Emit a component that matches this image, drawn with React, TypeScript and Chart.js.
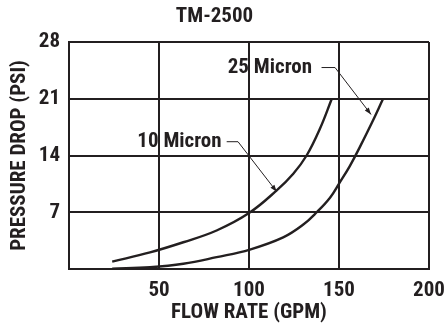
import { useEffect, useRef } from "react";
import { Chart, registerables } from "chart.js";

Chart.register(...registerables);

const FAMILY = "Roboto";
const WEIGHT = "condensed bold";
const INK = "#231f20";

const chartTitle = "TM-2500";
const xAxisTitle = "FLOW RATE (GPM)";
const yAxisTitle = "PRESSURE DROP (PSI)";
const xTickLabels = [50, 100, 150, 200];
const yTickLabels = [7, 14, 21, 28];

const seriesNames = ["10 Micron", "25 Micron"];

const micron10Flow = [24, 45, 63.5, 82, 100, 115.4, 124.6, 132, 139.4, 146];
const micron10Psi = [0.9, 2.05, 3.3, 4.75, 6.9, 9.7, 11.75, 14, 17.3, 21];

const micron25Flow = [24, 45, 63.5, 82, 100.5, 119, 130, 137.6, 145, 150.2, 156, 161.7, 168.2, 174.3];
const micron25Psi = [0.05, 0.22, 0.64, 1.46, 2.4, 3.9, 5.45, 7.0, 8.8, 10.6, 12.7, 15.1, 18, 20.9];

// callouts, in data units
const calloutText = ["10 Micron", "25 Micron"];
const calloutTextEndX = [84.8, 135];
const calloutY = [15.7, 24.85];
const calloutLineStartX = [87.6, 140.3];
const calloutBendX = [93.9, 147.8];
const calloutTipX = [115.4, 167.8];
const calloutTipY = [9.53, 19.06];

const calloutPlugin = {
  id: "callouts",
  afterDatasetsDraw(chart: any) {
    const { ctx, scales } = chart;
    const xs = scales.x;
    const ys = scales.y;
    ctx.save();
    for (let i = 0; i < calloutText.length; i++) {
      const ty = ys.getPixelForValue(calloutY[i]);
      ctx.font = `${WEIGHT} 21px ${FAMILY}`;
      ctx.fillStyle = INK;
      ctx.textAlign = "right";
      ctx.textBaseline = "middle";
      ctx.fillText(calloutText[i], xs.getPixelForValue(calloutTextEndX[i]), ty);

      const sx = xs.getPixelForValue(calloutLineStartX[i]);
      const bx = xs.getPixelForValue(calloutBendX[i]);
      const tx = xs.getPixelForValue(calloutTipX[i]);
      const tipY = ys.getPixelForValue(calloutTipY[i]);
      ctx.strokeStyle = INK;
      ctx.lineWidth = 1;
      ctx.beginPath();
      ctx.moveTo(sx, ty);
      ctx.lineTo(bx, ty);
      ctx.lineTo(tx, tipY);
      ctx.stroke();

      const ang = Math.atan2(tipY - ty, tx - bx);
      const len = 7;
      const half = 2.5;
      const baseX = tx - Math.cos(ang) * len;
      const baseY = tipY - Math.sin(ang) * len;
      ctx.beginPath();
      ctx.moveTo(tx, tipY);
      ctx.lineTo(baseX - Math.sin(ang) * half, baseY + Math.cos(ang) * half);
      ctx.lineTo(baseX + Math.sin(ang) * half, baseY - Math.cos(ang) * half);
      ctx.closePath();
      ctx.fill();
    }
    ctx.restore();
  },
};

export default function App() {
  const canvasRef = useRef<HTMLCanvasElement | null>(null);

  useEffect(() => {
    if (!canvasRef.current) return;
    const font = (size: number) => ({ family: FAMILY, size, weight: WEIGHT as any, lineHeight: 1.2 });
    const chart = new Chart(canvasRef.current, {
      type: "line",
      data: {
        datasets: [
          {
            label: seriesNames[0],
            data: micron10Flow.map((x, i) => ({ x, y: micron10Psi[i] })),
            borderColor: INK,
            borderWidth: 2.4,
            pointRadius: 0,
            tension: 0.4,
            fill: false,
          },
          {
            label: seriesNames[1],
            data: micron25Flow.map((x, i) => ({ x, y: micron25Psi[i] })),
            borderColor: INK,
            borderWidth: 2.4,
            pointRadius: 0,
            tension: 0.4,
            fill: false,
          },
        ],
      },
      options: {
        animation: false,
        responsive: true,
        maintainAspectRatio: false,
        layout: { padding: { left: 0, right: 15, top: 0, bottom: 0 } },
        plugins: {
          legend: { display: false },
          tooltip: { enabled: false },
          title: {
            display: true,
            text: chartTitle,
            color: INK,
            font: font(21),
            padding: { top: 4.5, bottom: 12.3 },
          },
        },
        scales: {
          x: {
            type: "linear",
            min: 0,
            max: 200,
            afterFit: (s: any) => {
              s.height = 61;
              s.paddingLeft = 0;
              s.paddingRight = 0;
            },
            ticks: {
              stepSize: 50,
              autoSkip: false,
              maxRotation: 0,
              color: INK,
              font: font(21),
              padding: 9,
              callback: (v: any) => (xTickLabels.includes(Number(v)) ? String(v) : ""),
            },
            grid: { color: INK, lineWidth: 2, drawTicks: false },
            border: { color: INK, width: 2 },
            title: {
              display: true,
              text: xAxisTitle,
              color: INK,
              font: font(21),
              padding: { top: 0, bottom: 5 },
            },
          },
          y: {
            type: "linear",
            min: 0,
            max: 28,
            afterFit: (s: any) => {
              s.width = 69;
            },
            ticks: {
              stepSize: 7,
              autoSkip: false,
              color: INK,
              font: font(21),
              padding: 9,
              callback: (v: any) => (yTickLabels.includes(Number(v)) ? String(v) : ""),
            },
            grid: { color: INK, lineWidth: 2, drawTicks: false },
            border: { color: INK, width: 2 },
            title: {
              display: true,
              text: yAxisTitle,
              color: INK,
              font: font(21),
              padding: { top: 7, bottom: 0 },
            },
          },
        },
      },
      plugins: [calloutPlugin],
    });
    return () => chart.destroy();
  }, []);

  return (
    <div style={{ position: "fixed", left: 0, top: 0, width: 444, height: 330, background: "#fff" }}>
      <canvas ref={canvasRef} />
    </div>
  );
}
